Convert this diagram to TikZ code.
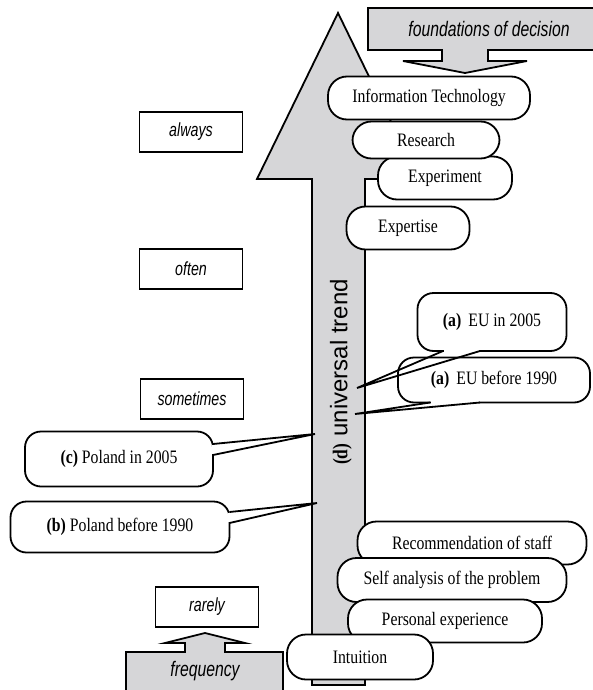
\documentclass[tikz,border=0pt]{standalone}
\usepackage{fontspec}
\setmainfont{Liberation Serif}
\setsansfont{Liberation Sans}
\newfontfamily\narrowserif[FakeStretch=0.83]{Liberation Serif}
\newfontfamily\narrowsans[FakeStretch=0.75]{Liberation Sans}
\usetikzlibrary{positioning,calc}

\definecolor{trendgray}{RGB}{214,214,216}

\begin{document}
\begin{tikzpicture}[x=1pt, y=-1pt,
  lvl/.style={draw, line width=1.6pt, minimum width=103pt, minimum height=40pt, inner sep=0pt, font=\fontsize{19}{21}\selectfont\narrowsans\itshape},
  src/.style={draw, fill=white, line width=1.8pt, rounded corners=19pt, minimum height=43pt, inner sep=0pt, font=\fontsize{19}{21}\selectfont\narrowserif},
  call/.style={draw, fill=white, line width=1.8pt, rounded corners=16pt, outer sep=0pt, inner sep=0pt, font=\fontsize{19}{21}\selectfont\narrowserif},
  ptr/.style={line width=1.8pt, line join=miter},
  gap/.style={white, line width=3pt},
  bigarr/.style={draw, fill=trendgray, line width=1.8pt, line join=miter},
  lbl/.style={font=\fontsize{21}{23}\selectfont\narrowsans\itshape},
]
\useasboundingbox (0,0) rectangle (592,690);

% big arrow and the two grey pointers
\draw[bigarr] (312,685) -- (312,179) -- (257,179) -- (338,13) -- (419,179) -- (365,179) -- (365,685) -- cycle;
\draw[bigarr] (600,8) -- (368,8) -- (368,50) -- (442,50) -- (442,61) -- (403,61) -- (465,73) -- (527,61) -- (488,61) -- (488,50) -- (600,50);
\draw[bigarr] (126,700) -- (126,652) -- (185,652) -- (185,643) -- (165,643) -- (205,633) -- (245,643) -- (225,643) -- (225,652) -- (283,652) -- (283,700);
\node[lbl] (found) at (489,29) {foundations of decision};
\node[lbl] (freq) at (205,671) {frequency};

\node[rotate=90] (trend) at (341,372) {{\fontsize{21}{23}\selectfont\narrowserif\bfseries (d)}\hspace{7pt}{\fontsize{24}{26}\selectfont\sffamily universal trend}};

% frequency levels
\node[lvl] (always) at (191,132) {always};
\node[lvl] (often) at (191,269) {often};
\node[lvl] (sometimes) at (192,399) {sometimes};
\node[lvl] (rarely) at (207,607) {rarely};

% sources
\node[src, minimum width=123pt] (expertise) at (408,228) {Expertise};
\node[src, minimum width=134pt] (experiment) at (445,178) {Experiment};
\node[src, minimum width=147pt, minimum height=37pt] (research) at (426,140) {Research};
\node[src, minimum width=202pt] (it) at (429,98) {Information Technology};

\node[src, minimum width=229pt] (recommend) at (472,543) {Recommendation of staff};
\node[src, minimum width=229pt, minimum height=44pt] (selfan) at (452,580) {Self analysis of the problem};
\node[src, minimum width=194pt] (personal) at (445,621) {Personal experience};
\node[src, minimum width=146pt, minimum height=45pt] (intuition) at (360,657) {Intuition};

% callouts
\node[call, minimum width=149pt, minimum height=58pt] (eu05) at (492,322) {\textbf{(a)}\, EU in 2005};
\node[call, minimum width=192pt, minimum height=45pt] (eu90) at (494,380) {\textbf{(a)}\, EU before 1990};
\node[call, minimum width=188pt, minimum height=55pt] (pl05) at (119,459) {\textbf{(c)} Poland in 2005};
\node[call, minimum width=219pt, minimum height=51pt] (pl90) at (120,527) {\textbf{(b)} Poland before 1990};

\coordinate (eu05tip) at (357,388);
\coordinate (eu90tip) at (355,414);
\coordinate (pl05tip) at (315,434);
\coordinate (pl90tip) at (317,503);

\draw[gap] ([xshift=-48pt]eu05.south) -- ([xshift=-13pt]eu05.south);
\draw[ptr] ([xshift=-49pt]eu05.south) -- (eu05tip) -- ([xshift=-12pt]eu05.south);
\draw[gap] ([xshift=-63pt]eu90.south) -- ([xshift=-15pt]eu90.south);
\draw[ptr] ([xshift=-64pt]eu90.south) -- (eu90tip) -- ([xshift=-14pt]eu90.south);
\draw[gap] ([yshift=14pt]pl05.east) -- ([yshift=5pt]pl05.east);
\draw[ptr] ([yshift=15pt]pl05.east) -- (pl05tip) -- ([yshift=4pt]pl05.east);
\draw[gap] ([yshift=14pt]pl90.east) -- ([yshift=5pt]pl90.east);
\draw[ptr] ([yshift=15pt]pl90.east) -- (pl90tip) -- ([yshift=4pt]pl90.east);
\end{tikzpicture}
\end{document}
